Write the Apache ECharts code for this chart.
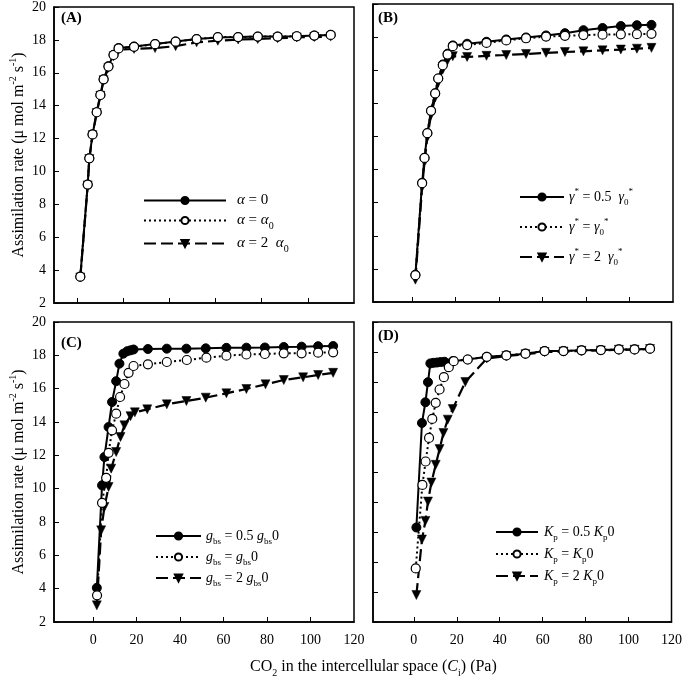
<!DOCTYPE html>
<html>
<head>
<meta charset="utf-8">
<script src="https://cdn.jsdelivr.net/npm/echarts@6/dist/echarts.min.js"></script>
<style>html,body{margin:0;padding:0;background:#fff}#c{width:685px;height:677px}</style>
</head>
<body>
<div id="c"></div>
<script>
// ---------- data ----------
const xTickValues = [0, 20, 40, 60, 80, 100];
const xLabelValues = [0, 20, 40, 60, 80, 100, 120];

// Panel A (alpha)
const aX = [1.4, 4.6, 5.3, 6.7, 8.5, 10.1, 11.5, 13.6, 15.8, 18.0, 24.7, 33.8, 42.7, 51.8, 61.0, 69.8, 78.3, 86.9, 95.2, 102.8, 109.9];
const aY_0 = [3.6, 9.2, 10.8, 12.25, 13.6, 14.65, 15.6, 16.4, 17.1, 17.5, 17.6, 17.75, 17.9, 18.05, 18.15, 18.17, 18.2, 18.2, 18.22, 18.26, 18.3];
const aY_1 = [3.6, 9.2, 10.8, 12.25, 13.6, 14.65, 15.6, 16.38, 17.08, 17.48, 17.58, 17.74, 17.89, 18.05, 18.17, 18.17, 18.2, 18.2, 18.22, 18.26, 18.3];
const aY_2 = [3.55, 9.15, 10.75, 12.2, 13.55, 14.6, 15.55, 16.3, 17.0, 17.4, 17.45, 17.5, 17.62, 17.85, 17.95, 18.02, 18.05, 18.1, 18.15, 18.17, 18.2];

// Panel B (gamma*)
const bX = [1.5, 4.6, 5.7, 7.0, 8.7, 10.6, 12.0, 14.1, 16.3, 18.7, 25.3, 34.2, 43.3, 52.4, 61.6, 70.3, 78.8, 87.6, 96.0, 103.4, 110.1];
const bY_05 = [3.65, 9.2, 10.7, 12.2, 13.55, 14.6, 15.5, 16.35, 17.0, 17.5, 17.6, 17.72, 17.86, 17.98, 18.1, 18.24, 18.42, 18.55, 18.67, 18.72, 18.74];
const bY_1 = [3.62, 9.18, 10.7, 12.2, 13.55, 14.6, 15.5, 16.3, 16.95, 17.45, 17.52, 17.65, 17.8, 17.93, 18.03, 18.08, 18.12, 18.15, 18.17, 18.18, 18.2];
const bY_2 = [3.35, 8.95, 10.45, 11.95, 13.3, 14.35, 15.25, 16.05, 16.6, 16.85, 16.8, 16.87, 16.92, 16.98, 17.05, 17.1, 17.14, 17.2, 17.25, 17.3, 17.35];

// Panel C (g_bs)
const cX_05 = [1.7, 4.1, 5.2, 7.1, 8.7, 10.6, 12.1, 13.9, 15.7, 17.2, 18.6, 25.2, 33.9, 42.9, 51.8, 61.3, 70.5, 79.0, 87.7, 95.9, 103.5, 110.4];
const cY_05 = [4.05, 10.2, 11.9, 13.7, 15.2, 16.45, 17.5, 18.1, 18.25, 18.3, 18.35, 18.38, 18.4, 18.4, 18.42, 18.45, 18.46, 18.47, 18.5, 18.52, 18.55, 18.56];
const cX_1 = [1.8, 4.1, 6.0, 7.1, 8.7, 10.6, 12.4, 14.4, 16.3, 18.6, 25.2, 33.9, 43.1, 52.1, 61.3, 70.5, 79.0, 87.7, 95.9, 103.5, 110.4];
const cY_1 = [3.6, 9.15, 10.65, 12.15, 13.5, 14.5, 15.5, 16.28, 16.95, 17.36, 17.46, 17.6, 17.72, 17.86, 17.98, 18.05, 18.08, 18.12, 18.12, 18.16, 18.18];
const cX_2 = [1.7, 3.7, 5.2, 7.1, 8.3, 10.6, 12.6, 14.4, 17.2, 19.2, 24.9, 33.9, 42.9, 51.8, 61.3, 70.5, 79.3, 87.7, 96.6, 103.5, 110.4];
const cY_2 = [3.0, 7.5, 8.9, 10.1, 11.2, 12.2, 13.1, 13.8, 14.35, 14.58, 14.76, 15.06, 15.26, 15.46, 15.72, 15.98, 16.26, 16.52, 16.68, 16.82, 16.95];

// Panel D (K_p)
const dX_05 = [1.2, 3.8, 5.4, 6.6, 7.7, 9.2, 10.8, 12.5, 14.3, 18.1, 25.1, 34.0, 43.1, 52.0, 60.9, 69.7, 78.1, 87.1, 95.5, 102.8, 110.0];
const dY_05 = [6.3, 13.27, 14.65, 15.99, 17.24, 17.28, 17.3, 17.33, 17.35, 17.39, 17.5, 17.68, 17.77, 17.89, 18.06, 18.06, 18.11, 18.13, 18.17, 18.17, 18.22];
const dX_1 = [0.9, 4.0, 5.5, 7.1, 8.6, 10.2, 12.0, 14.0, 16.3, 18.6, 25.1, 34.0, 43.1, 52.0, 60.9, 69.7, 78.1, 87.1, 95.5, 102.8, 110.0];
const dY_1 = [3.57, 9.14, 10.7, 12.27, 13.54, 14.61, 15.5, 16.32, 16.99, 17.39, 17.5, 17.68, 17.77, 17.89, 18.06, 18.06, 18.11, 18.13, 18.17, 18.17, 18.22];
const dX_2 = [1.2, 3.8, 5.4, 6.6, 8.2, 10.2, 12.0, 13.8, 15.8, 18.1, 24.0, 34.0, 43.1, 52.0, 60.9, 69.7, 78.1, 87.1, 95.5, 102.8, 110.0];
const dY_2 = [1.8, 5.5, 6.74, 8.03, 9.3, 10.48, 11.53, 12.6, 13.49, 14.2, 16.0, 17.57, 17.73, 17.85, 18.0, 18.03, 18.08, 18.1, 18.15, 18.15, 18.2];

const legendLabels = {
  A0: '{i|α} = 0', A1: '{i|α} = {i|α}{sub|0}', A2: '{i|α} = 2  {i|α}{sub|0}',
  B0: '{i|γ}{sup|*} = 0.5  {i|γ}{sub|0}{sup|*}', B1: '{i|γ}{sup|*} = {i|γ}{sub|0}{sup|*}', B2: '{i|γ}{sup|*} = 2  {i|γ}{sub|0}{sup|*}',
  C0: '{i|g}{sub|bs} = 0.5 {i|g}{sub|bs}0', C1: '{i|g}{sub|bs} = {i|g}{sub|bs}0', C2: '{i|g}{sub|bs} = 2 {i|g}{sub|bs}0',
  D0: '{i|K}{sub|p} = 0.5 {i|K}{sub|p}0', D1: '{i|K}{sub|p} = {i|K}{sub|p}0', D2: '{i|K}{sub|p} = 2 {i|K}{sub|p}0'
};

// ---------- styling ----------
const FONT = 'Liberation Serif';
function richFor(fs) {
  return {
    i: {fontStyle: 'italic', fontFamily: FONT, fontSize: fs, color: '#000'},
    sub: {fontSize: Math.round(fs * 0.65), fontFamily: FONT, verticalAlign: 'bottom', lineHeight: fs + 6, color: '#000'},
    sup: {fontSize: Math.round(fs * 0.65), fontFamily: FONT, verticalAlign: 'top', lineHeight: fs + 6, color: '#000'}
  };
}
const triPath = 'path://M0,0 L10,0 L5,9 Z';

function pairs(xs, ys) { return xs.map((x, k) => [x, ys[k]]); }

const grids = [
  {left: 54, top: 4, width: 300, height: 299},
  {left: 373, top: 4, width: 300, height: 298},
  {left: 54, top: 322, width: 300, height: 300},
  {left: 373, top: 322, width: 301, height: 300}
].map(g => Object.assign(g, {show: true, borderColor: '#000', borderWidth: 1.5, backgroundColor: 'transparent'}));

const xMins = [-10, -18, -18, -19];
const xAxes = xMins.map((mn, k) => ({
  type: 'value', gridIndex: k, min: mn, max: 120,
  axisLine: {show: true, onZero: false, lineStyle: {color: '#000', width: 1.5}},
  axisTick: {show: true, inside: true, length: 5, lineStyle: {color: '#000', width: 1}, customValues: xTickValues},
  axisLabel: {show: k >= 2, customValues: xLabelValues, margin: 11, fontSize: 14, fontFamily: FONT, color: '#000'},
  splitLine: {show: false}
}));

const yName = 'Assimilation rate (μ mol m{sup|-2} s{sup|-1})';
const yAxes = [0, 1, 2, 3].map(k => ({
  type: 'value', gridIndex: k, min: k === 3 ? 0 : 2, max: 20, interval: 2,
  axisLine: {show: true, onZero: false, lineStyle: {color: '#000', width: 1.5}},
  axisTick: {show: true, inside: true, length: 5, lineStyle: {color: '#000', width: 1}},
  axisLabel: {show: k === 0 || k === 2, margin: 8, fontSize: 14, fontFamily: FONT, color: '#000'},
  splitLine: {show: false},
  name: (k === 0 || k === 2) ? yName : '',
  nameLocation: 'middle', nameRotate: 90, nameGap: 24,
  nameTextStyle: {fontSize: 16, fontFamily: FONT, color: '#000', rich: richFor(16)}
}));

function mk(name, idx, xs, ys, kind) {
  const s = {
    name, type: 'line', xAxisIndex: idx, yAxisIndex: idx, data: pairs(xs, ys),
    symbolSize: 9, animation: false, silent: true, emphasis: {disabled: true}
  };
  if (kind === 0) {
    s.symbol = 'circle';
    s.itemStyle = {color: '#000', borderColor: '#000', borderWidth: 1};
    s.lineStyle = {color: '#000', width: 2, type: 'solid'};
    s.z = 3;
  } else if (kind === 1) {
    s.symbol = 'circle';
    s.itemStyle = {color: '#fff', borderColor: '#000', borderWidth: 1.2};
    s.lineStyle = {color: '#000', width: 2, type: [2, 3]};
    s.z = 4;
  } else {
    s.symbol = triPath;
    s.itemStyle = {color: '#000', borderColor: '#000', borderWidth: 0.5};
    s.lineStyle = {color: '#000', width: 2.2, type: [12, 5]};
    s.z = 2;
  }
  return s;
}

const series = [
  mk('A2', 0, aX, aY_2, 2), mk('A0', 0, aX, aY_0, 0), mk('A1', 0, aX, aY_1, 1),
  mk('B2', 1, bX, bY_2, 2), mk('B0', 1, bX, bY_05, 0), mk('B1', 1, bX, bY_1, 1),
  mk('C2', 2, cX_2, cY_2, 2), mk('C0', 2, cX_05, cY_05, 0), mk('C1', 2, cX_1, cY_1, 1),
  mk('D2', 3, dX_2, dY_2, 2), mk('D0', 3, dX_05, dY_05, 0), mk('D1', 3, dX_1, dY_1, 1)
];

function legend(p, left, top, w, gap, pad, fs) {
  return {
    data: [p + '0', p + '1', p + '2'], orient: 'vertical', left, top,
    itemWidth: w, itemHeight: 9, itemGap: gap, selectedMode: false,
    formatter: n => legendLabels[n],
    textStyle: {fontSize: fs, fontFamily: FONT, color: '#000', padding: [0, 0, 0, pad], rich: richFor(fs)}
  };
}

const titleStyle = {fontSize: 15, fontWeight: 'bold', fontFamily: FONT, color: '#000'};
const option = {
  backgroundColor: '#fff',
  animation: false,
  grid: grids, xAxis: xAxes, yAxis: yAxes, series,
  legend: [
    legend('A', 138, 188, 82, 5, 6, 15),
    legend('B', 514, 182, 44, 10, 0, 14),
    legend('C', 150, 524, 45, 4, 0, 14),
    legend('D', 490, 520, 42, 5, 1, 14)
  ],
  title: [
    {text: '(A)', left: 61, top: 11, padding: 0, textStyle: titleStyle},
    {text: '(B)', left: 378, top: 11, padding: 0, textStyle: titleStyle},
    {text: '(C)', left: 61, top: 336, padding: 0, textStyle: titleStyle},
    {text: '(D)', left: 378, top: 329, padding: 0, textStyle: titleStyle},
    {text: 'CO{sub|2} in the intercellular space ({i|C}{sub|i}) (Pa)', left: 250, top: 656, padding: 0,
     textStyle: {fontSize: 16, fontWeight: 'normal', fontFamily: FONT, color: '#000', rich: richFor(16)}}
  ]
};

const chart = echarts.init(document.getElementById('c'), null, {renderer: 'canvas'});
chart.setOption(option);
</script>
</body>
</html>
